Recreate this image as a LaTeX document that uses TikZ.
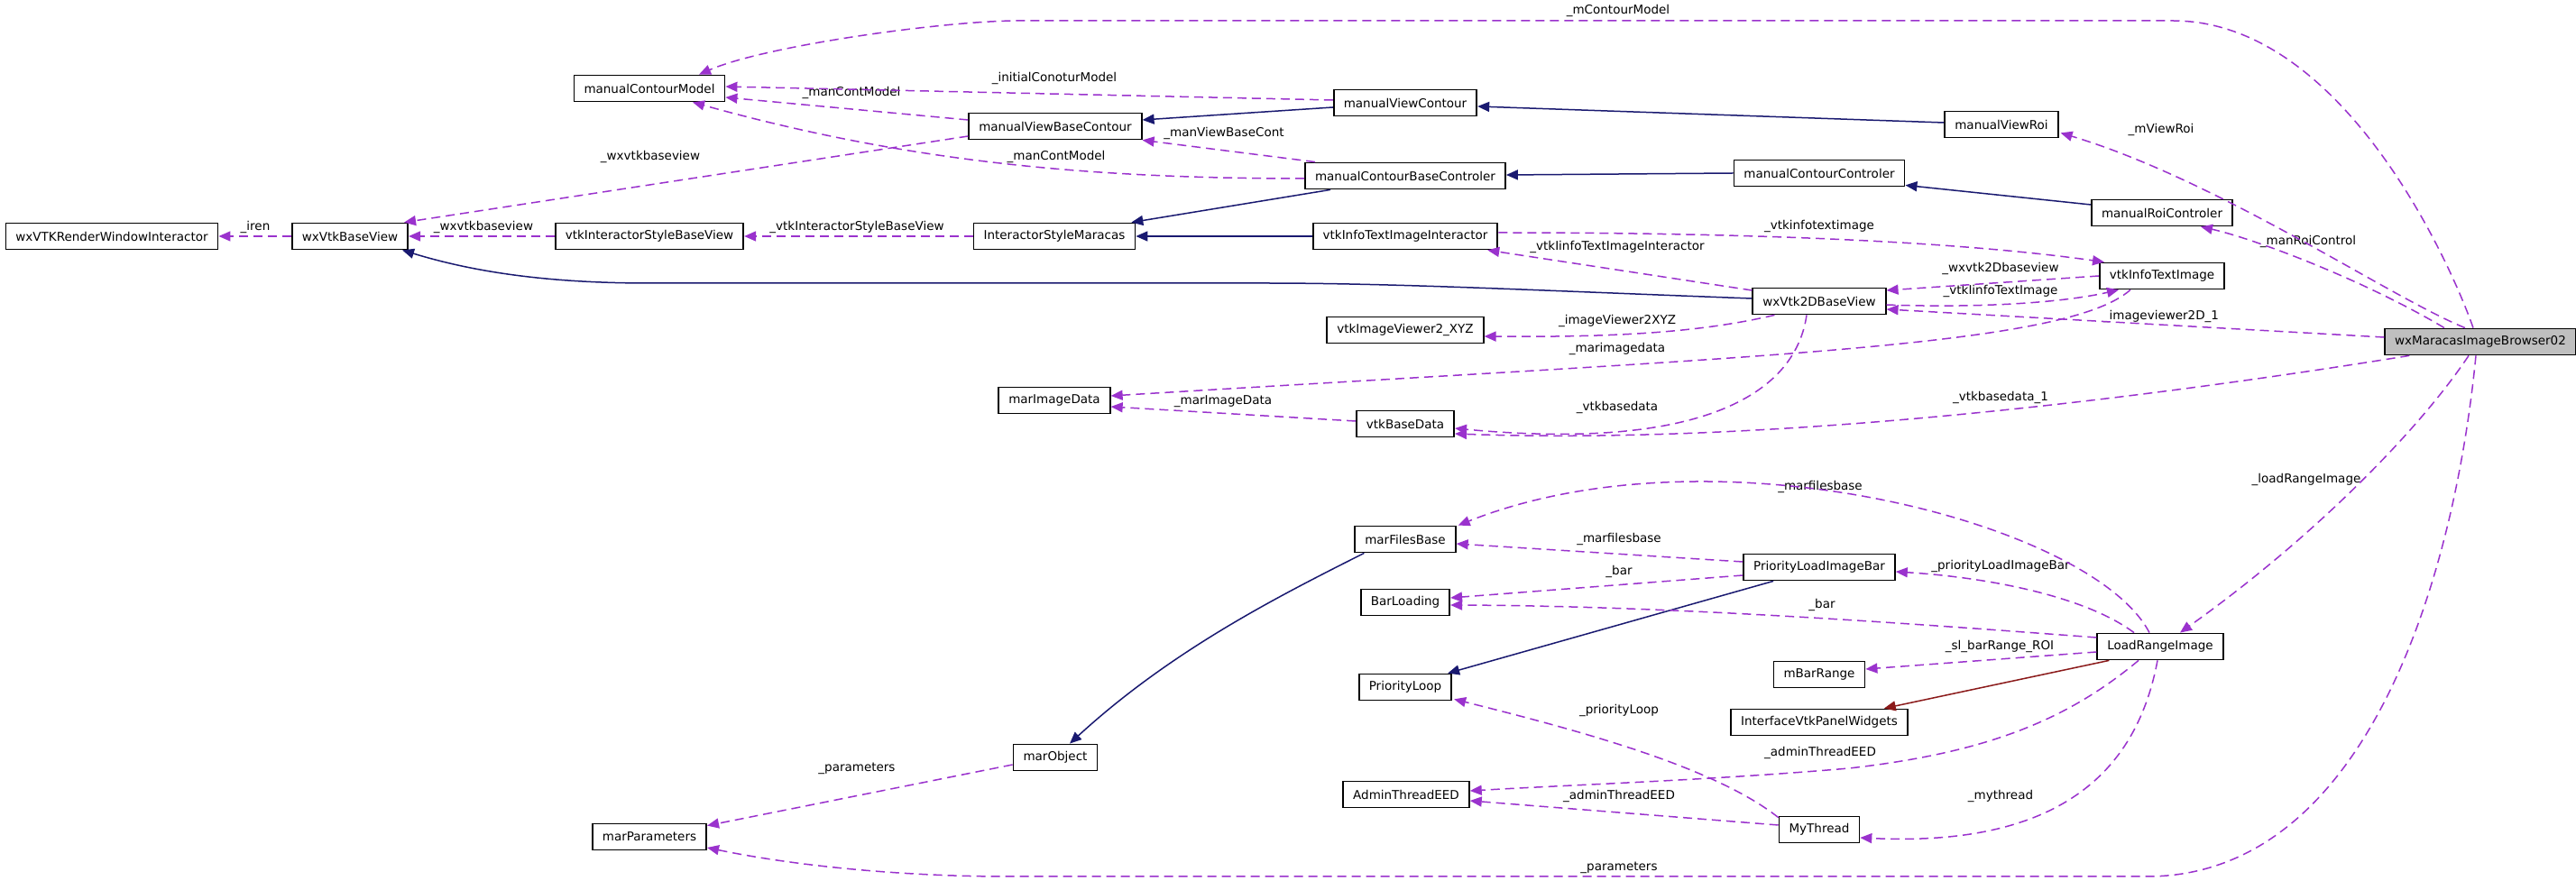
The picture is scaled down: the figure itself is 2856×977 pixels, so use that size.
\documentclass[tikz,border=0pt]{standalone}
\usepackage{fontspec}
\setmainfont{DejaVu Sans}
\usetikzlibrary{arrows.meta,calc}
\definecolor{usecol}{HTML}{9A32CD}
\definecolor{inhcol}{HTML}{191970}
\definecolor{privcol}{HTML}{8B1A1A}
\definecolor{maincol}{HTML}{BFBFBF}
\begin{document}
\begin{tikzpicture}[x=0.5pt, y=-0.5pt,
    cls/.style={rectangle, draw, line width=0.9pt, fill=white, inner xsep=5.5pt, inner ysep=0pt, minimum height=14.5pt, font=\fontsize{6.75}{8}\selectfont},
    focus/.style={cls, fill=maincol},
    lbl/.style={inner sep=0pt, font=\fontsize{6.75}{8}\selectfont},
    uses/.style={draw=usecol, line width=0.75pt, dash pattern=on 5pt off 3pt, -{Triangle[length=6.5pt,width=5.5pt]}},
    inherit/.style={draw=inhcol, line width=0.75pt, -{Triangle[length=6.5pt,width=5.5pt]}},
    private/.style={draw=privcol, line width=0.75pt, -{Triangle[length=6.5pt,width=5.5pt]}}
]
\path[use as bounding box, fill=white] (0,0) rectangle (2856,977);

\node[focus] (browser) at (2750,379) {wxMaracasImageBrowser02};
\node[cls] (rwi) at (124,262) {wxVTKRenderWindowInteractor};
\node[cls] (baseview) at (388,262) {wxVtkBaseView};
\node[cls] (stylebase) at (720,262) {vtkInteractorStyleBaseView};
\node[cls] (model) at (720,98) {manualContourModel};
\node[cls] (stylemar) at (1169,262) {InteractorStyleMaracas};
\node[cls] (viewbase) at (1170,140) {manualViewBaseContour};
\node[cls] (imgdata) at (1169,444) {marImageData};
\node[cls] (params) at (720,928) {marParameters};
\node[cls] (object) at (1170,840) {marObject};
\node[cls] (viewcont) at (1558,114) {manualViewContour};
\node[cls] (basectrl) at (1558,195) {manualContourBaseControler};
\node[cls] (textinter) at (1558,262) {vtkInfoTextImageInteractor};
\node[cls] (viewerxyz) at (1558,366) {vtkImageViewer2\_XYZ};
\node[cls] (basedata) at (1558,470) {vtkBaseData};
\node[cls] (filesbase) at (1558,598) {marFilesBase};
\node[cls] (barload) at (1558,668) {BarLoading};
\node[cls] (prioloop) at (1558,762) {PriorityLoop};
\node[cls] (admin) at (1559,881) {AdminThreadEED};
\node[cls] (ctrl) at (2017,192) {manualContourControler};
\node[cls] (view2d) at (2017,334) {wxVtk2DBaseView};
\node[cls] (priobar) at (2017,629) {PriorityLoadImageBar};
\node[cls] (barrange) at (2017,748) {mBarRange};
\node[cls] (panel) at (2017,801) {InterfaceVtkPanelWidgets};
\node[cls] (thread) at (2017,920) {MyThread};
\node[cls] (viewroi) at (2219,138) {manualViewRoi};
\node[cls] (roictrl) at (2397,236) {manualRoiControler};
\node[cls] (textimg) at (2397,306) {vtkInfoTextImage};
\node[cls] (loadrange) at (2395,717) {LoadRangeImage};

\node[lbl] (lmcontour) at (1794,12) {\_mContourModel};
\node[lbl] (linitial) at (1169,87) {\_initialConoturModel};
\node[lbl] (lcontmodela) at (944,103) {\_manContModel};
\node[lbl] (lcontmodelb) at (1171,174) {\_manContModel};
\node[lbl] (lviewbase) at (1357,148) {\_manViewBaseCont};
\node[lbl] (lbaseviewa) at (721,174) {\_wxvtkbaseview};
\node[lbl] (lbaseviewb) at (536,252) {\_wxvtkbaseview};
\node[lbl] (liren) at (283,252) {\_iren};
\node[lbl] (lstyle) at (950,252) {\_vtkInteractorStyleBaseView};
\node[lbl] (ltextinter) at (1793,274) {\_vtkIinfoTextImageInteractor};
\node[lbl] (ltextimga) at (2017,251) {\_vtkinfotextimage};
\node[lbl] (lview2d) at (2218,298) {\_wxvtk2Dbaseview};
\node[lbl] (ltextimgb) at (2218,323) {\_vtkIinfoTextImage};
\node[lbl] (lviewer2d) at (2396,351) {\_imageviewer2D\_1};
\node[lbl] (lbasedataa) at (2218,441) {\_vtkbasedata\_1};
\node[lbl] (lviewroi) at (2396,144) {\_mViewRoi};
\node[lbl] (lroictrl) at (2559,268) {\_manRoiControl};
\node[lbl] (lviewerxyz) at (1793,356) {\_imageViewer2XYZ};
\node[lbl] (limgdataa) at (1793,387) {\_marimagedata};
\node[lbl] (limgdatab) at (1356,445) {\_marImageData};
\node[lbl] (lbasedatab) at (1793,452) {\_vtkbasedata};
\node[lbl] (lloadrange) at (2557,532) {\_loadRangeImage};
\node[lbl] (lfilesa) at (2018,540) {\_marfilesbase};
\node[lbl] (lfilesb) at (1795,598) {\_marfilesbase};
\node[lbl] (lpriobar) at (2218,628) {\_priorityLoadImageBar};
\node[lbl] (lbara) at (1795,634) {\_bar};
\node[lbl] (lbarb) at (2020,671) {\_bar};
\node[lbl] (lbarrange) at (2217,717) {\_sl\_barRange\_ROI};
\node[lbl] (lprioloop) at (1795,788) {\_priorityLoop};
\node[lbl] (ladmina) at (2018,835) {\_adminThreadEED};
\node[lbl] (ladminb) at (1795,883) {\_adminThreadEED};
\node[lbl] (lthread) at (2218,883) {\_mythread};
\node[lbl] (lparamsa) at (1795,962) {\_parameters};
\node[lbl] (lparamsb) at (950,852) {\_parameters};

\draw[inherit] ($(viewcont.west)+(0,5)$) -- ($(viewbase.east)+(0,-7)$);
\draw[inherit] ($(viewroi.west)+(0,-2)$) -- ($(viewcont.east)+(0,4)$);
\draw[inherit] ($(basectrl.south west)+(29,0)$) -- ($(stylemar.north east)+(-5,0)$);
\draw[inherit] (ctrl.west) -- ($(basectrl.east)+(0,-1)$);
\draw[inherit] ($(roictrl.west)+(0,-9)$) -- ($(ctrl.south east)+(0,-2)$);
\draw[inherit] (textinter) -- (stylemar);
\draw[inherit] ($(view2d.west)+(0,-3)$) .. controls (1700,322) and (1550,314) .. (1400,314) -- (720,314) .. controls (600,314) and (520,300) .. ($(baseview.south east)+(-7,0)$);
\draw[inherit] ($(priobar.south west)+(34,0)$) -- ($(prioloop.north east)+(-5,0)$);
\draw[inherit] ($(filesbase.south west)+(11,0)$) .. controls (1420,660) and (1300,720) .. ($(object.north)+(16,0)$);
\draw[private] ($(loadrange.south west)+(14,0)$) -- ($(panel.north east)+(-27,0)$);

\draw[uses] ($(browser.north)+(-8,0)$) .. controls (2720,300) and (2600,23) .. (2409,23) -- (1128,23) .. controls (1050,23) and (850,50) .. ($(model.north)+(55,0)$);
\draw[uses] ($(viewcont.west)+(0,-3)$) -- ($(model.east)+(0,-2)$);
\draw[uses] ($(viewbase.west)+(0,-7)$) -- ($(model.east)+(0,10)$);
\draw[uses] ($(basectrl.west)+(0,3)$) .. controls (1200,198) and (1000,178) .. ($(model.south)+(48,0)$);
\draw[uses] ($(viewbase.west)+(0,11)$) -- ($(baseview.north east)+(-5,0)$);
\draw[uses] ($(basectrl.north west)+(12,0)$) -- (viewbase.south east);
\draw[uses] (stylebase) -- (baseview);
\draw[uses] (baseview) -- (rwi);
\draw[uses] (stylemar) -- (stylebase);
\draw[uses] ($(view2d.west)+(0,-12)$) -- ($(textinter.south east)+(-12,0)$);
\draw[uses] ($(textinter.east)+(0,-4)$) .. controls (1900,258) and (2150,265) .. ($(textimg.north west)+(6,0)$);
\draw[uses] (textimg.west) -- ($(view2d.east)+(0,-12)$);
\draw[uses] ($(view2d.east)+(0,4)$) .. controls (2200,342) and (2290,335) .. ($(textimg.south west)+(22,0)$);
\draw[uses] ($(browser.west)+(0,-5)$) -- ($(view2d.east)+(0,9)$);
\draw[uses] ($(textimg.south west)+(35,0)$) .. controls (2290,385) and (1950,395) .. ($(imgdata.east)+(0,-5)$);
\draw[uses] ($(view2d.south west)+(25,0)$) .. controls (1880,370) and (1780,374) .. ($(viewerxyz.east)+(0,7)$);
\draw[uses] ($(view2d.south)+(-14,0)$) .. controls (1990,440) and (1880,500) .. ($(basedata.east)+(0,5)$);
\draw[uses] ($(browser.south west)+(28,0)$) .. controls (2450,430) and (2000,495) .. ($(basedata.east)+(0,11)$);
\draw[uses] ($(basedata.west)+(0,-3)$) -- ($(imgdata.east)+(0,7)$);
\draw[uses] ($(browser.north)+(-17,0)$) .. controls (2650,330) and (2460,200) .. ($(viewroi.south east)+(2,-6)$);
\draw[uses] ($(browser.north)+(-40,0)$) .. controls (2620,310) and (2500,265) .. ($(roictrl.south)+(43,0)$);
\draw[uses] ($(browser.south)+(-13,0)$) .. controls (2680,480) and (2560,600) .. ($(loadrange.north)+(22,0)$);
\draw[uses] ($(browser.south)+(-5,0)$) .. controls (2720,650) and (2620,972) .. (2380,972) -- (1117,972) .. controls (1000,972) and (880,960) .. ($(params.east)+(0,12)$);
\draw[uses] ($(object.west)+(0,8)$) -- ($(params.north east)+(0,3)$);

\draw[uses] ($(loadrange.north)+(-12,0)$) .. controls (2320,580) and (1900,470) .. ($(filesbase.north east)+(2,0)$);
\draw[uses] ($(priobar.west)+(0,-6)$) -- ($(filesbase.east)+(0,5)$);
\draw[uses] ($(priobar.west)+(0,9)$) -- ($(barload.east)+(0,-5)$);
\draw[uses] ($(loadrange.north)+(-29,0)$) .. controls (2310,660) and (2200,640) .. ($(priobar.east)+(0,5)$);
\draw[uses] ($(loadrange.west)+(0,-10)$) .. controls (2100,690) and (1850,672) .. ($(barload.east)+(0,3)$);
\draw[uses] ($(loadrange.west)+(0,6)$) -- ($(barrange.east)+(0,-6)$);
\draw[uses] ($(loadrange.south)+(-24,0)$) .. controls (2290,800) and (2200,835) .. (2050,852) .. controls (1900,865) and (1750,870) .. ($(admin.east)+(0,-4)$);
\draw[uses] ($(loadrange.south)+(-3,0)$) .. controls (2370,850) and (2290,940) .. ($(thread.east)+(0,9)$);
\draw[uses] ($(thread.north west)+(0,2)$) .. controls (1900,850) and (1750,810) .. ($(prioloop.south east)+(2,-2)$);
\draw[uses] ($(thread.west)+(0,-5)$) -- ($(admin.east)+(0,7)$);
\end{tikzpicture}
\end{document}
